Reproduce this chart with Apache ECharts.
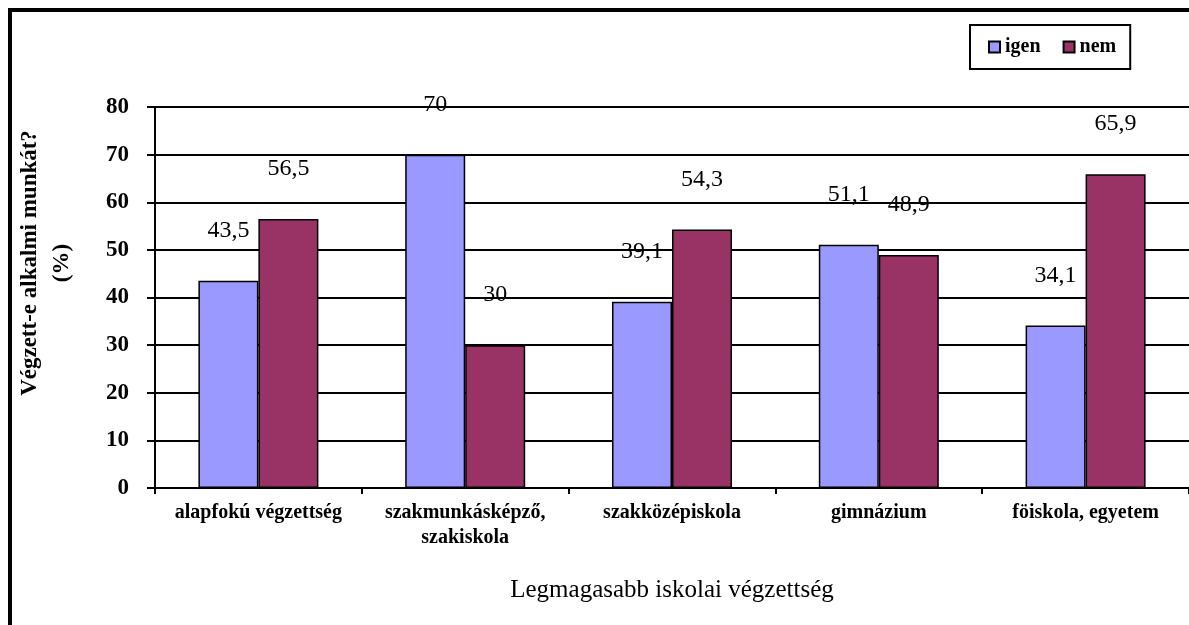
<!DOCTYPE html>
<html><head><meta charset="utf-8">
<script src="https://cdn.jsdelivr.net/npm/echarts@6/dist/echarts.min.js"></script>
<style>html,body{margin:0;padding:0;background:#fff}#c{width:1189px;height:625px}</style>
</head><body><div id="c"></div>
<script>
const categories = ['alapfokú végzettség', 'szakmunkásképző,\nszakiskola', 'szakközépiskola', 'gimnázium', 'föiskola, egyetem'];
const igen = [43.5, 70, 39.1, 51.1, 34.1];
const nem = [56.5, 30, 54.3, 48.9, 65.9];
const yTicks = [0, 10, 20, 30, 40, 50, 60, 70, 80];
const seriesNames = ['igen', 'nem'];
const yTitle = 'Végzett-e alkalmi munkát?\n(%)';
const xTitle = 'Legmagasabb iskolai végzettség';

const FONT = '"Liberation Serif", "Times New Roman", serif';
const chart = echarts.init(document.getElementById('c'));
const labelCfg = {
  show: true, position: 'top', distance: 38,
  fontFamily: FONT, fontSize: 24, color: '#000',
  formatter: p => String(p.value).replace('.', ',')
};
chart.setOption({
  animation: false,
  backgroundColor: '#fff',
  textStyle: { fontFamily: FONT, color: '#000' },
  grid: { left: 155, right: 0, top: 107, bottom: 137, containLabel: false },
  legend: {
    data: seriesNames,
    left: 970, top: 25,
    padding: [12, 14, 12, 18],
    itemWidth: 11, itemHeight: 11, itemGap: 22,
    borderColor: '#000', borderWidth: 2,
    textStyle: { fontFamily: FONT, fontSize: 20, fontWeight: 'bold', color: '#000', padding: [0, 0, 0, 0] },
    icon: 'rect'
  },
  xAxis: {
    type: 'category', data: categories,
    axisLine: { lineStyle: { color: '#000', width: 2 } },
    axisTick: { show: true, length: 6, lineStyle: { color: '#000', width: 2 } },
    axisLabel: { fontFamily: FONT, fontSize: 20, fontWeight: 'bold', color: '#000', margin: 12, lineHeight: 25, interval: 0 },
    name: xTitle, nameLocation: 'middle', nameGap: 90,
    nameTextStyle: { fontFamily: FONT, fontSize: 25, color: '#000' }
  },
  yAxis: {
    type: 'value', min: yTicks[0], max: yTicks[yTicks.length - 1], interval: 10,
    axisLine: { show: true, lineStyle: { color: '#000', width: 2 } },
    axisTick: { show: true, length: 8, lineStyle: { color: '#000', width: 2 } },
    axisLabel: { fontFamily: FONT, fontSize: 23, fontWeight: 'bold', color: '#000', margin: 26 },
    splitLine: { lineStyle: { color: '#000', width: 2 } }
  },
  graphic: [
    { type: 'rect', z: 100, shape: { x: 10, y: 10, width: 1300, height: 800 }, style: { fill: 'none', stroke: '#000', lineWidth: 4 }, silent: true },
    { type: 'text', z: 100, x: 46, y: 263, rotation: Math.PI / 2,
      style: { text: yTitle, fontFamily: FONT, fontSize: 23, fontWeight: 'bold', fill: '#000', align: 'center', verticalAlign: 'middle', lineHeight: 32 } }
  ],
  series: [
    { name: seriesNames[0], type: 'bar', data: igen, barWidth: 60, barGap: '0%',
      itemStyle: { color: '#9999FF', borderColor: '#000', borderWidth: 1.5 }, label: labelCfg },
    { name: seriesNames[1], type: 'bar', data: nem, barWidth: 60,
      itemStyle: { color: '#993366', borderColor: '#000', borderWidth: 1.5 }, label: labelCfg }
  ]
});
</script></body></html>
